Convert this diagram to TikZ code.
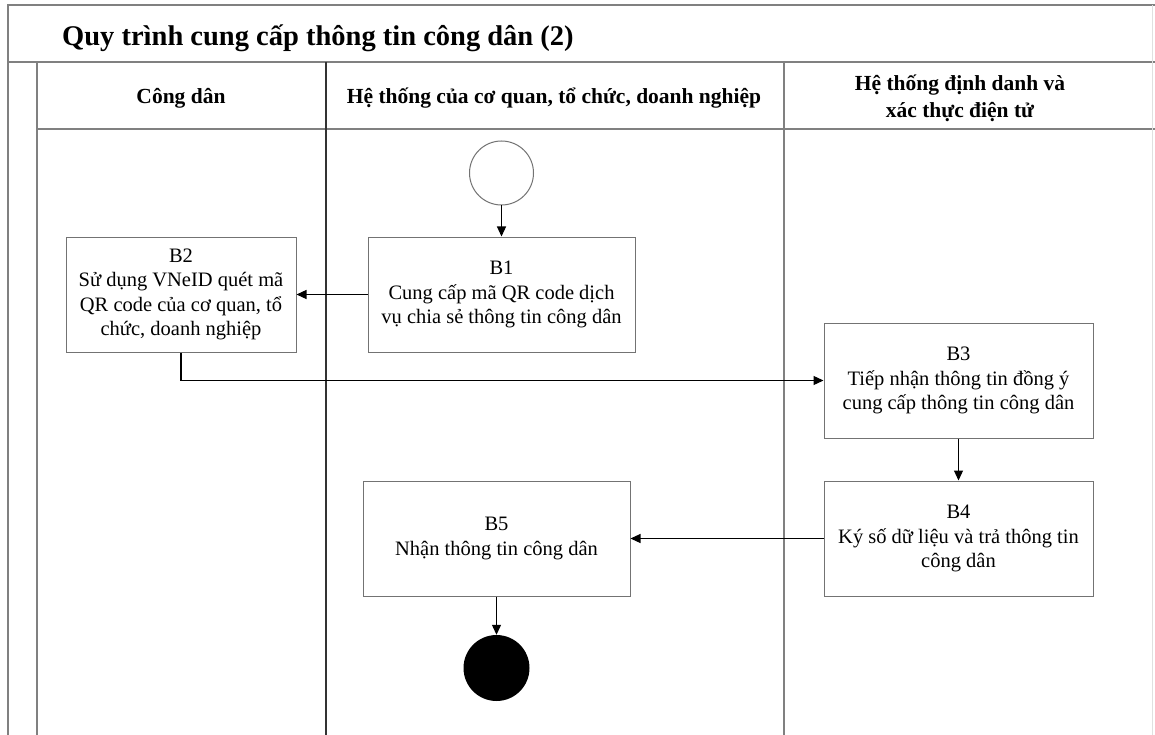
\documentclass[tikz,border=0pt]{standalone}
\usepackage{fontspec}
\setmainfont{Liberation Serif}
\usetikzlibrary{arrows.meta,calc}
\begin{document}
\begin{tikzpicture}[x=1pt,y=-1pt,
  frame/.style={draw=black!50,line width=1.6pt},
  stepbox/.style={draw=black!55,line width=1pt,align=center,inner sep=0pt,font=\fontsize{20.5}{24.5}\selectfont},
  hdr/.style={align=center,font=\bfseries\fontsize{21.5}{27}\selectfont},
  arr/.style={-{Triangle[length=10pt,width=9pt]},line width=1.2pt,black},
]
\useasboundingbox (0,0) rectangle (1155,735);
\fill[white] (0,0) rectangle (1155,735);
% frame
\draw[frame] (8,735) -- (8,5) -- (1155,5);
\draw[frame] (8,62) -- (1155,62);
\draw[frame] (37,735) -- (37,62);
\draw[frame] (37,129) -- (1155,129);
\draw[black!80,line width=1.3pt] (326,62) -- (326,735);
\draw[frame] (784,62) -- (784,735);
\draw[black!12,line width=1pt] (1152,5) -- (1152,735);
% title and headers
\node[anchor=west,inner sep=0pt,font=\bfseries\fontsize{28.5}{32}\selectfont] (title) at (62,38) {Quy trình cung cấp thông tin công dân (2)};
\node[hdr] (h1) at (181,98) {Công dân};
\node[hdr] (h2) at (554,98) {Hệ thống của cơ quan, tổ chức, doanh nghiệp};
\node[hdr] (h3) at (960,98) {Hệ thống định danh và\\xác thực điện tử};
% nodes
\node[circle,draw=black!55,line width=1pt,minimum size=64pt,inner sep=0pt] (start) at (501.5,173) {};
\node[stepbox,minimum width=267pt,minimum height=115pt] (b1) at (501.5,294.5) {B1\\Cung cấp mã QR code dịch\\vụ chia sẻ thông tin công dân};
\node[stepbox,minimum width=230pt,minimum height=115pt] (b2) at (181,294.5) {B2\\Sử dụng VNeID quét mã\\QR code của cơ quan, tổ\\chức, doanh nghiệp};
\node[stepbox,minimum width=269pt,minimum height=115pt] (b3) at (958.5,380.5) {B3\\Tiếp nhận thông tin đồng ý\\cung cấp thông tin công dân};
\node[stepbox,minimum width=269pt,minimum height=115pt] (b4) at (958.5,538.5) {B4\\Ký số dữ liệu và trả thông tin\\công dân};
\node[stepbox,minimum width=267pt,minimum height=115pt] (b5) at (496.5,538.5) {B5\\Nhận thông tin công dân};
\node[circle,fill=black,minimum size=66pt,inner sep=0pt] (end) at (496.5,668) {};
% connectors
\draw[arr] (start) -- (b1);
\draw[arr] (b1) -- (b2);
\draw[arr] (b2.south) |- (b3.west);
\draw[arr] (b3) -- (b4);
\draw[arr] (b4) -- (b5);
\draw[arr] (b5) -- (end);
\end{tikzpicture}
\end{document}
